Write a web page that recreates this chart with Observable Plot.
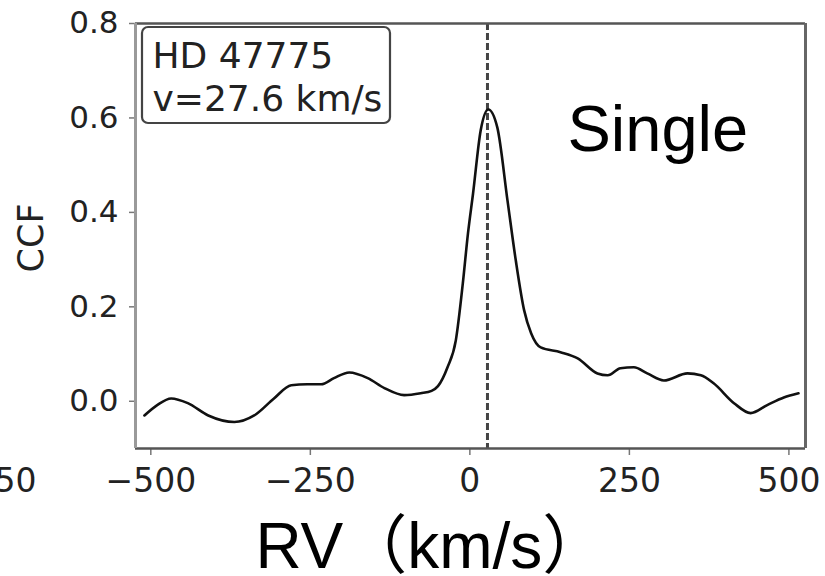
<!DOCTYPE html>
<html>
<head>
<meta charset="utf-8">
<script src="https://cdn.jsdelivr.net/npm/d3@7"></script>
<script src="https://cdn.jsdelivr.net/npm/@observablehq/plot@0.6"></script>
<style>
  html, body { margin: 0; padding: 0; background: #fff; overflow: hidden; }
  #chart svg { display: block; }
</style>
</head>
<body>
<div id="chart"></div>
<script>
// --- data ---
const rv = [-510, -490, -468, -442, -410, -369, -338, -307, -280, -255, -233, -213, -189, -160, -134, -103, -77, -60, -50, -35, -22, -11, -3, 5, 17, 29, 43, 59, 72, 85, 96, 111, 142, 169, 200, 216, 236, 257, 278, 304, 341, 362, 382, 414, 440, 466, 492, 515];
const ccf = [-0.030, -0.008, 0.006, -0.004, -0.030, -0.044, -0.030, 0.006, 0.034, 0.036, 0.036, 0.049, 0.061, 0.049, 0.028, 0.013, 0.017, 0.022, 0.032, 0.072, 0.129, 0.25, 0.355, 0.44, 0.574, 0.618, 0.58, 0.425, 0.298, 0.193, 0.144, 0.114, 0.104, 0.091, 0.059, 0.055, 0.07, 0.072, 0.059, 0.044, 0.059, 0.055, 0.038, -0.004, -0.025, -0.008, 0.008, 0.017];
const vMeasured = 27.6;
const starName = "HD 47775";
const annotation = `${starName}\nv=${vMeasured} km/s`;
const typeLabel = "Single";
const xTicks = [-750, -500, -250, 0, 250, 500];
const yTicks = [0, 0.2, 0.4, 0.6, 0.8];
const xDomain = [-524, 526];
const yDomain = [-0.1, 0.8];
const xTitle = "RV（km/s）";
const yTitle = "CCF";

const points = rv.map((x, i) => ({x, y: ccf[i]}));

const boxMark = (index, scales, values, dims) => {
  const r = d3.create("svg:rect")
    .attr("x", dims.marginLeft + 7)
    .attr("y", dims.marginTop + 4)
    .attr("width", 248)
    .attr("height", 96)
    .attr("rx", 6)
    .attr("fill", "white")
    .attr("stroke", "#444")
    .attr("stroke-width", 2.2);
  return r.node();
};

const chart = Plot.plot({
  width: 825,
  height: 576,
  marginLeft: 135,
  marginRight: 20,
  marginTop: 23,
  marginBottom: 128,
  x: {domain: xDomain},
  y: {domain: yDomain},
  style: {background: "white"},
  marks: [
    Plot.axisY({
      ticks: yTicks, tickFormat: d3.format(".1f"), tickSize: 6, tickPadding: 11,
      stroke: "#777", strokeWidth: 1.5,
      fontSize: 31, fontFamily: "DejaVu Sans", fill: "#222", label: null
    }),
    Plot.axisX({
      ticks: xTicks, tickFormat: d3.format("d"), tickSize: 7, tickPadding: 13,
      stroke: "#777", strokeWidth: 1.5,
      fontSize: 33, fontFamily: "DejaVu Sans", fill: "#222", label: null
    }),
    Plot.ruleX([vMeasured], {stroke: "#444", strokeWidth: 3, strokeDasharray: "7,3"}),
    Plot.line(points, {x: "x", y: "y", curve: "monotone-x", stroke: "#111", strokeWidth: 2.6}),
    Plot.ruleY([yDomain[1]], {stroke: "#555", strokeWidth: 2.5}),
    Plot.ruleY([yDomain[0]], {stroke: "#555", strokeWidth: 2.5}),
    Plot.ruleX([xDomain[1]], {stroke: "#666", strokeWidth: 3}),
    Plot.ruleX([xDomain[0]], {stroke: "#9a9a9a", strokeWidth: 3}),
    boxMark,
    Plot.text([annotation], {
      frameAnchor: "top-left", dx: 17, dy: 15, textAnchor: "start", lineAnchor: "top",
      lineHeight: 1.17, fontSize: 36, fontFamily: "DejaVu Sans", fill: "#222"
    }),
    Plot.text([typeLabel], {
      frameAnchor: "top-left", dx: 432, dy: 127, textAnchor: "start", lineAnchor: "bottom",
      fontSize: 65, fontFamily: "Liberation Sans", fill: "#000"
    }),
    Plot.text([xTitle], {
      frameAnchor: "bottom-left", dx: 120, dy: 119, textAnchor: "start", lineAnchor: "bottom",
      fontSize: 64, fontFamily: "Liberation Sans, 'Noto Sans CJK SC'", fill: "#000"
    }),
    Plot.text([yTitle], {
      frameAnchor: "left", dx: -104, dy: 2, rotate: -90, textAnchor: "middle", lineAnchor: "middle",
      fontSize: 35, fontFamily: "DejaVu Sans", fill: "#222"
    })
  ]
});
document.getElementById("chart").appendChild(chart);
</script>
</body>
</html>
